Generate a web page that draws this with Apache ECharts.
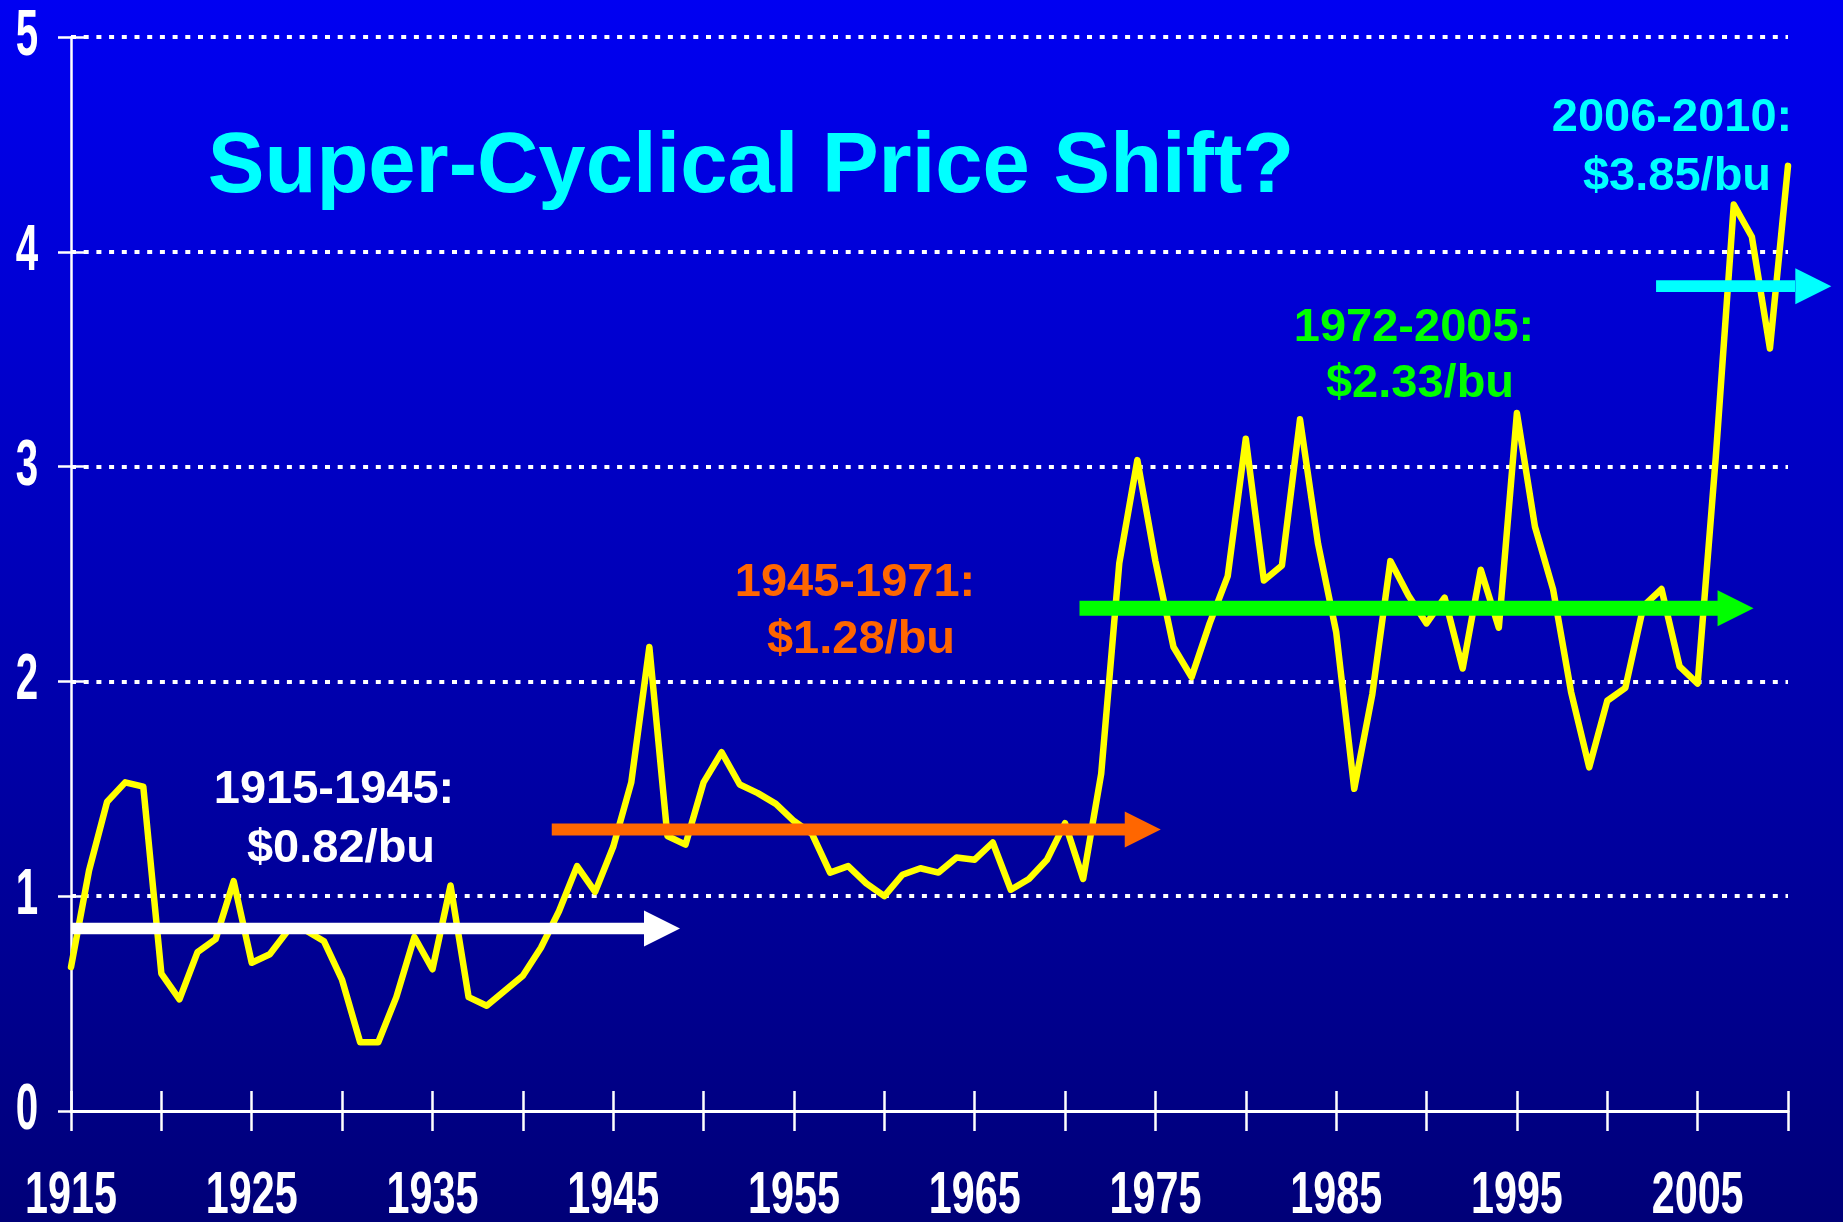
<!DOCTYPE html>
<html>
<head>
<meta charset="utf-8">
<title>Super-Cyclical Price Shift?</title>
<script src="https://cdn.jsdelivr.net/npm/echarts@6.0.0/dist/echarts.min.js"></script>
<style>
html, body { margin: 0; padding: 0; }
#main { width: 1843px; height: 1222px; }
</style>
</head>
<body>
<div id="main"></div>
<script>
// corn price, $/bu, one value per year from 1915
var firstYear = 1915;
var cornPrice = [
	0.67, 1.12, 1.44, 1.53, 1.51, 0.64, 0.52, 0.74, 0.80, 1.07,   // 1915-1924
	0.69, 0.73, 0.84, 0.84, 0.79, 0.61, 0.32, 0.32, 0.53, 0.81,   // 1925-1934
	0.66, 1.05, 0.53, 0.49, 0.56, 0.63, 0.76, 0.93, 1.14, 1.02,   // 1935-1944
	1.23, 1.53, 2.16, 1.28, 1.24, 1.53, 1.67, 1.52, 1.48, 1.43,   // 1945-1954
	1.35, 1.29, 1.11, 1.14, 1.06, 1.00, 1.10, 1.13, 1.11, 1.18,   // 1955-1964
	1.17, 1.25, 1.03, 1.08, 1.17, 1.34, 1.08, 1.57, 2.55, 3.03,   // 1965-1974
	2.56, 2.16, 2.02, 2.27, 2.49, 3.13, 2.47, 2.54, 3.22, 2.64,   // 1975-1984
	2.23, 1.50, 1.94, 2.56, 2.40, 2.27, 2.39, 2.06, 2.52, 2.25,   // 1985-1994
	3.25, 2.72, 2.43, 1.95, 1.60, 1.91, 1.97, 2.35, 2.43, 2.07,   // 1995-2004
	1.99, 3.04, 4.22, 4.07, 3.55, 4.40                            // 2005-2010
];
var years = [];
for (var i = 0; i < cornPrice.length; i++) {
	years.push(firstYear + i);
}

// tick labels
var xTickLabels = ['1915', '1925', '1935', '1945', '1955', '1965', '1975', '1985', '1995', '2005'];
var yTickLabels = ['0', '1', '2', '3', '4', '5'];

// period averages, drawn as arrows
var periodNames = ['1915-1945:', '1945-1971:', '1972-2005:', '2006-2010:'];
var periodPrices = ['$0.82/bu', '$1.28/bu', '$2.33/bu', '$3.85/bu'];
var arrowFrom = [1915, 1941.6, 1970.8, 2002.7];
var arrowTo = [1947.7, 1974.3, 2007.1, 2011.4];
var arrowLevel = [0.85, 1.31, 2.34, 3.84];

var periodColors = ['#FFFFFF', '#FF6600', '#00FF00', '#00FFFF'];
var shaftWidth = [11.5, 12, 15, 11.7];
// where the two text lines of each period sit (pixels)
var textPos = [
	[[334, 790], [341, 849]],
	[[855, 583], [861, 640]],
	[[1414, 328], [1420, 384]],
	[[1672, 118], [1677, 177]]
];

var boldFont = '"Liberation Sans", Arial, sans-serif';

var myChart = echarts.init(document.getElementById('main'));

var series = [{
	type: 'line',
	data: years.map(function (y, i) { return [y, cornPrice[i]]; }),
	symbol: 'none',
	silent: true,
	z: 2,
	lineStyle: { color: '#FFFF00', width: 6.5, join: 'round', cap: 'round' }
}];

var graphics = [{
	type: 'text',
	x: 751, y: 169,
	style: {
		text: 'Super-Cyclical Price Shift?',
		fill: '#00FFFF',
		font: 'bold 85px ' + boldFont,
		align: 'center', verticalAlign: 'middle',
		textAlign: 'center', textVerticalAlign: 'middle'
	}
}];

for (var k = 0; k < arrowLevel.length; k++) {
	// shaft
	series.push({
		type: 'line',
		data: [[arrowFrom[k], arrowLevel[k]], [arrowTo[k], arrowLevel[k]]],
		symbol: 'none',
		clip: false,
		silent: true,
		z: 3,
		lineStyle: { color: periodColors[k], width: shaftWidth[k], cap: 'butt' }
	});
	// head
	series.push({
		type: 'scatter',
		data: [[arrowTo[k], arrowLevel[k]]],
		symbol: 'triangle',
		symbolRotate: -90,
		symbolSize: [36, 36],
		clip: false,
		silent: true,
		z: 3,
		itemStyle: { color: periodColors[k], opacity: 1 }
	});
	var lines = [periodNames[k], periodPrices[k]];
	for (var j = 0; j < 2; j++) {
		graphics.push({
			type: 'text',
			x: textPos[k][j][0], y: textPos[k][j][1],
			z: 10,
			style: {
				text: lines[j],
				fill: periodColors[k],
				font: 'bold 47px ' + boldFont,
				align: 'center', verticalAlign: 'middle',
				textAlign: 'center', textVerticalAlign: 'middle'
			}
		});
	}
}

var option = {
	backgroundColor: {
		type: 'linear', x: 0, y: 0, x2: 0, y2: 1,
		colorStops: [{ offset: 0, color: '#0000F2' }, { offset: 1, color: '#000078' }]
	},
	animation: false,
	grid: { left: 71, right: 55, top: 37, bottom: 111, outerBoundsMode: 'none', containLabel: false },
	xAxis: [{
		type: 'value',
		min: 1915, max: 2010, interval: 5,
		axisLine: { show: true, lineStyle: { color: '#FFFFFF', width: 3 } },
		axisTick: { show: true, length: 20, lineStyle: { color: '#FFFFFF', width: 2.5 } },
		axisLabel: { show: false },
		splitLine: { show: false }
	}, {
		// second copy only for the ticks crossing into the plot
		type: 'value',
		position: 'bottom',
		min: 1915, max: 2010, interval: 5,
		axisLine: { show: false },
		axisTick: { show: true, inside: true, length: 20, lineStyle: { color: '#FFFFFF', width: 2.5 } },
		axisLabel: { show: false },
		splitLine: { show: false }
	}],
	yAxis: [{
		type: 'value',
		min: 0, max: 5, interval: 1,
		axisLine: { show: true, lineStyle: { color: '#FFFFFF', width: 2.5 } },
		axisTick: { show: true, length: 13, lineStyle: { color: '#FFFFFF', width: 2.5 } },
		axisLabel: { show: false },
		splitLine: { show: true, showMinLine: false, lineStyle: { color: '#FFFFFF', width: 4, type: [5, 7.7] } }
	}, {
		type: 'value',
		position: 'left',
		min: 0, max: 5, interval: 1,
		axisLine: { show: false },
		axisTick: { show: true, inside: true, length: 13, lineStyle: { color: '#FFFFFF', width: 2.5 } },
		axisLabel: { show: false },
		splitLine: { show: false }
	}],
	series: series
};

myChart.setOption(option);

// tick labels in a tall condensed face: placed through the axes, squeezed sideways
xTickLabels.forEach(function (t) {
	graphics.push({
		type: 'text',
		x: myChart.convertToPixel({ xAxisIndex: 0 }, Number(t)),
		y: 1197,
		scaleX: 0.7,
		style: {
			text: t, fill: '#FFFFFF', font: 'bold 59px ' + boldFont,
			align: 'center', verticalAlign: 'middle',
			textAlign: 'center', textVerticalAlign: 'middle'
		}
	});
});
yTickLabels.forEach(function (t) {
	graphics.push({
		type: 'text',
		x: 27,
		y: myChart.convertToPixel({ yAxisIndex: 0 }, Number(t)),
		scaleX: 0.62,
		style: {
			text: t, fill: '#FFFFFF', font: 'bold 65px ' + boldFont,
			align: 'center', verticalAlign: 'middle',
			textAlign: 'center', textVerticalAlign: 'middle'
		}
	});
});

myChart.setOption({ graphic: graphics });
</script>
</body>
</html>
